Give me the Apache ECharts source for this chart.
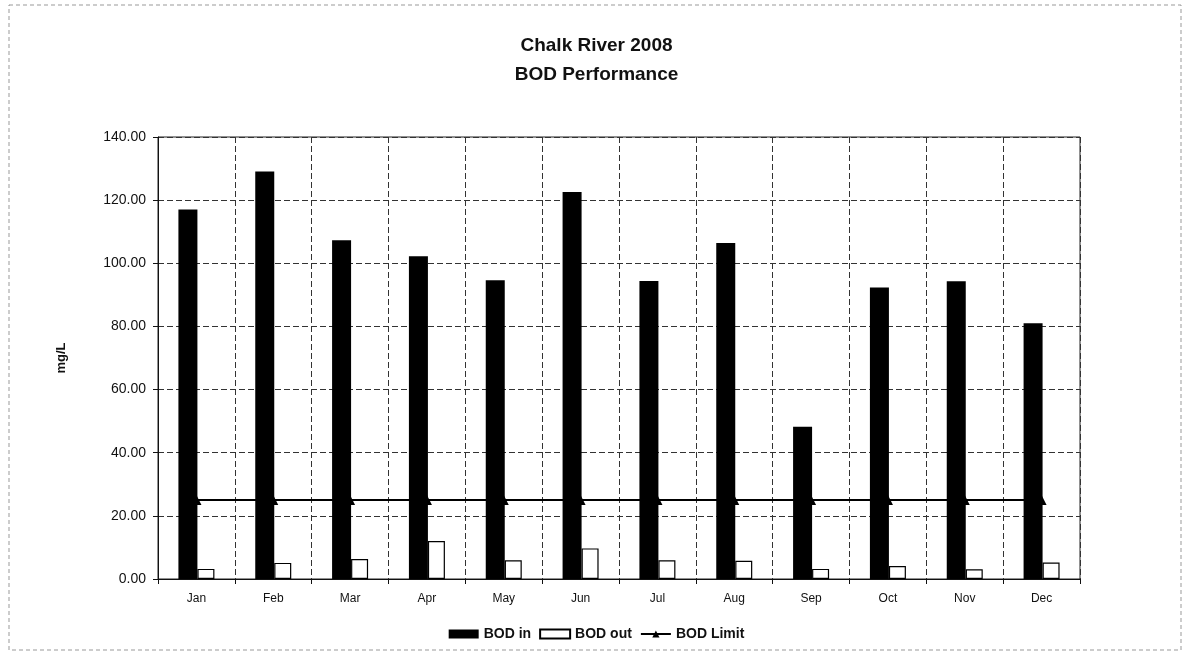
<!DOCTYPE html>
<html><head><meta charset="utf-8">
<script src="https://cdn.jsdelivr.net/npm/echarts@6/dist/echarts.min.js"></script>
<style>html,body{margin:0;padding:0;background:#fff}#c{width:1193px;height:660px}</style>
</head><body><div id="c"></div>
<script>
const months = ['Jan','Feb','Mar','Apr','May','Jun','Jul','Aug','Sep','Oct','Nov','Dec'];
const bodIn = [117.0,129.1,107.3,102.2,94.6,122.6,94.4,106.4,48.2,92.3,94.3,81.0];
const bodOut = [3.2,5.1,6.3,12.0,5.9,9.7,5.9,5.8,3.2,4.1,3.1,5.2];
const bodLimit = [25,25,25,25,25,25,25,25,25,25,25,25];
const yTicks = {min:0,max:140,interval:20};

const chart = echarts.init(document.getElementById('c'));
const font = 'Liberation Sans, Arial, sans-serif';
chart.setOption({
  animation:false,
  backgroundColor:'#fff',
  textStyle:{fontFamily:font,color:'#000'},
  title:{
    text:'Chalk River 2008\nBOD Performance',
    left:'center', top:26,
    textStyle:{fontFamily:font,fontSize:19,fontWeight:'bold',color:'#111',lineHeight:29}
  },
  graphic:[{type:'rect',shape:{x:9,y:5,width:1172,height:645},style:{fill:'none',stroke:'#999',lineWidth:1,lineDash:[4,3]},silent:true}],
  grid:{left:158,right:113,top:137,bottom:81,show:true,borderColor:'#222',borderWidth:1},
  legend:{
    bottom:14,left:'center',itemGap:8,itemWidth:30,itemHeight:9,
    textStyle:{fontFamily:font,fontSize:14,fontWeight:'bold',color:'#111'},
    data:[{name:'BOD in',icon:'rect'},{name:'BOD out',icon:'rect'},{name:'BOD Limit'}]
  },
  xAxis:{
    type:'category',data:months,boundaryGap:true,
    axisLine:{lineStyle:{color:'#111'}},
    axisTick:{show:true,length:5,lineStyle:{color:'#111'}},
    axisLabel:{fontFamily:font,fontSize:12,color:'#111',margin:14},
    splitLine:{show:true,lineStyle:{color:'#333',type:[6,3],width:1}}
  },
  yAxis:{
    type:'value',min:yTicks.min,max:yTicks.max,interval:yTicks.interval,
    name:'mg/L',nameLocation:'middle',nameGap:90,nameRotate:90,
    nameTextStyle:{fontFamily:font,fontSize:13,fontWeight:'bold',color:'#111'},
    axisLine:{show:true,lineStyle:{color:'#111'}},
    axisTick:{show:true,length:5,lineStyle:{color:'#111'}},
    axisLabel:{fontFamily:font,fontSize:14,color:'#111',margin:12,formatter:v=>v.toFixed(2)},
    splitLine:{show:true,lineStyle:{color:'#333',type:[6,3],width:1}}
  },
  series:[
    {name:'BOD in',type:'bar',data:bodIn,barWidth:19,barGap:'0%',
     itemStyle:{color:'#000',borderColor:'#000',borderWidth:0}},
    {name:'BOD out',type:'bar',data:bodOut,barWidth:17,barGap:'0%',
     itemStyle:{color:'#fff',borderColor:'#000',borderWidth:1.2}},
    {name:'BOD Limit',type:'line',data:bodLimit,symbol:'triangle',symbolSize:10,
     lineStyle:{color:'#000',width:2},itemStyle:{color:'#000'},z:5}
  ]
});
</script></body></html>
